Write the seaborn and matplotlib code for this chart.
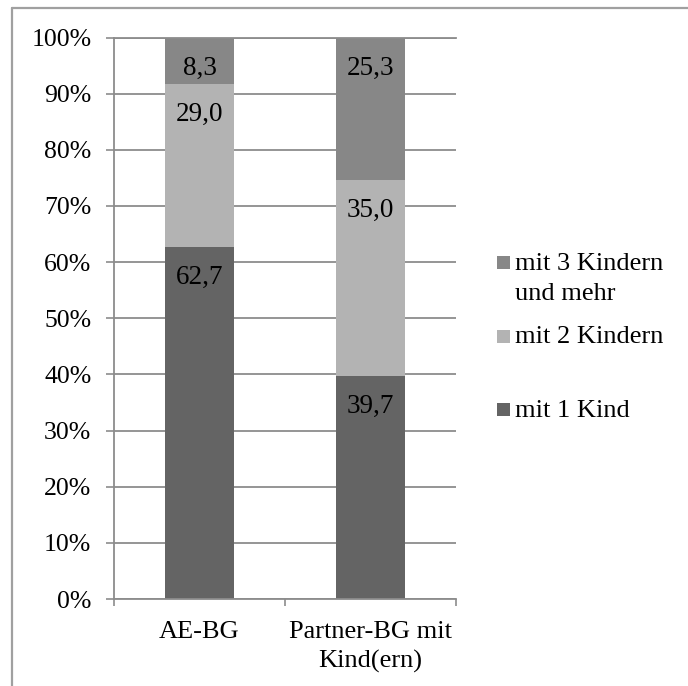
import matplotlib
matplotlib.use("Agg")
import matplotlib.pyplot as plt
from matplotlib.lines import Line2D
from matplotlib.patches import Rectangle
from matplotlib.ticker import FuncFormatter, FixedLocator
import numpy as np
import pandas as pd
import seaborn as sns

# Anteile der Bedarfsgemeinschaften nach Kinderzahl (in %)
categories = ["AE-BG", "Partner-BG mit\nKind(ern)"]
series_names = ["mit 1 Kind", "mit 2 Kindern", "mit 3 Kindern\nund mehr"]
kind1 = [62.7, 39.7]
kind2 = [29.0, 35.0]
kind3 = [8.3, 25.3]
colors = ["#646464", "#b3b3b3", "#878787"]
y_ticks = [0, 10, 20, 30, 40, 50, 60, 70, 80, 90, 100]

sns.set_theme(style="white")
plt.rcParams["font.family"] = ["Liberation Serif", "DejaVu Serif"]

W, H = 688, 686
fig = plt.figure(figsize=(W / 100, H / 100), dpi=100)
ax = fig.add_axes([114 / W, 1 - 599 / H, (456 - 114) / W, (599 - 37.5) / H])

layers = [kind1, kind2, kind3]
df = pd.DataFrame({"cat": categories})
bottoms = np.zeros(len(categories))
tops = []
for vals in layers:
    bottoms = bottoms + np.array(vals)
    tops.append(bottoms.copy())

# stacked bars: draw cumulative totals from the top layer downwards
for layer_idx in range(len(layers) - 1, -1, -1):
    df["top"] = tops[layer_idx]
    sns.barplot(data=df, x="cat", y="top", color=colors[layer_idx],
                width=0.4, saturation=1, linewidth=0, ax=ax, zorder=2)

# value labels near the upper end of each segment
for layer_idx, vals in enumerate(layers):
    for i, v in enumerate(vals):
        ax.annotate(f"{v:.1f}".replace(".", ","), xy=(i, tops[layer_idx][i]),
                    xytext=(0, -26.6), textcoords="offset points",
                    ha="center", va="baseline", fontsize=19.5, color="black",
                    zorder=5)

grid_c = "#8c8c8c"
ax.set_ylim(0, 100)
ax.set_xlim(-0.5, 1.5)
ax.yaxis.set_major_locator(FixedLocator(y_ticks))
ax.yaxis.set_major_formatter(FuncFormatter(lambda v, p: f"{int(v)}%"))
ax.yaxis.grid(True, color=grid_c, lw=1.3, zorder=0)
ax.set_axisbelow(True)
ax.tick_params(axis="y", which="major", direction="out", length=5.8,
               width=1.2, color=grid_c, pad=10.5, labelsize=18.5,
               labelcolor="black", left=True)
ax.set_xlabel("")
ax.set_ylabel("")
ax.set_xticks(range(len(categories)))
ax.set_xticklabels(categories, fontsize=19, linespacing=1.35)
ax.xaxis.set_minor_locator(FixedLocator([-0.5, 0.5, 1.5]))
ax.tick_params(axis="x", which="major", length=0, pad=16, labelcolor="black")
ax.tick_params(axis="x", which="minor", direction="out", length=5,
               width=1.2, color=grid_c, bottom=True)
for s in ["right"]:
    ax.spines[s].set_visible(False)
for s in ["left", "bottom", "top"]:
    ax.spines[s].set_color(grid_c)
    ax.spines[s].set_linewidth(1.3)

# legend, entries listed from the top segment downwards
legend_items = [(2, [270, 300]), (1, [343]), (0, [417])]
sq = 13
for idx, baselines in legend_items:
    lines = series_names[idx].split("\n")
    cy = baselines[0] - 7
    fig.add_artist(Rectangle((497 / W, 1 - (cy + sq / 2) / H), sq / W, sq / H,
                             transform=fig.transFigure, color=colors[idx],
                             lw=0))
    for line, b in zip(lines, baselines):
        fig.text(515 / W, 1 - b / H, line, ha="left", va="baseline",
                 fontsize=19, color="black")

# outer frame
frame_c = "#a0a0a0"
fig.add_artist(Line2D([12 / W, 1], [1 - 8 / H, 1 - 8 / H],
                      transform=fig.transFigure, color=frame_c, lw=1.6))
fig.add_artist(Line2D([12 / W, 12 / W], [0, 1 - 8 / H],
                      transform=fig.transFigure, color=frame_c, lw=1.6))

fig.savefig("out.png", dpi=100, facecolor="white")
